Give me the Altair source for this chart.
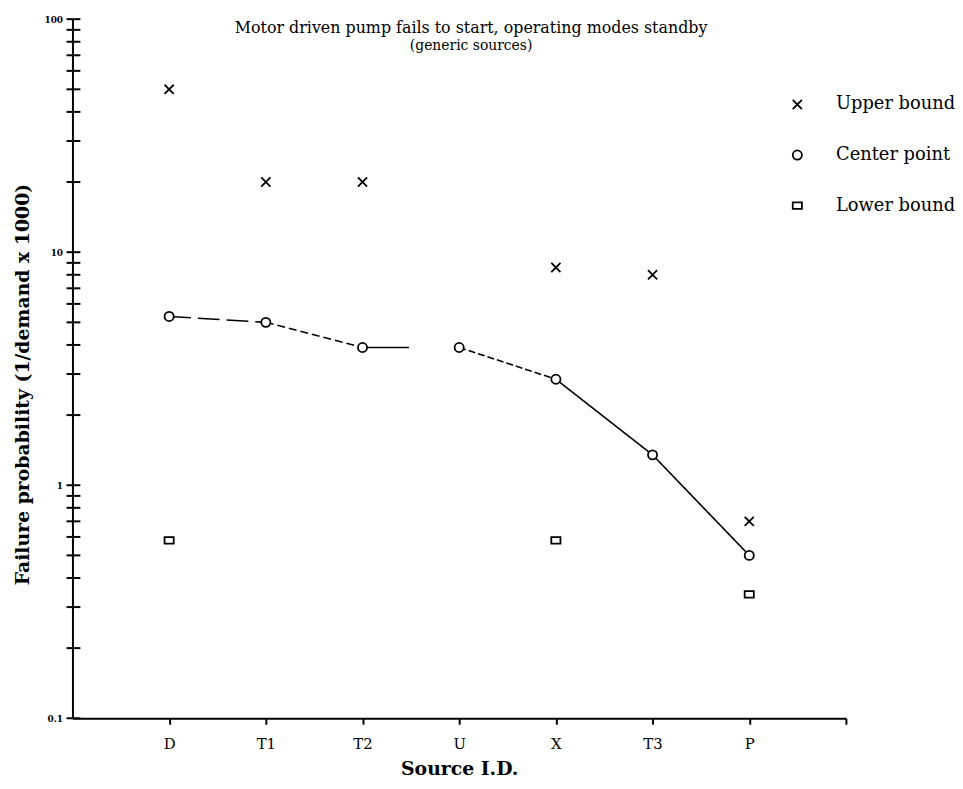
import altair as alt
import pandas as pd

# ---- data ----
sources = ["D", "T1", "T2", "U", "X", "T3", "P"]

upper_src = ["D", "T1", "T2", "X", "T3", "P"]
upper_val = [50, 20, 20, 8.6, 8.0, 0.7]

center_src = ["D", "T1", "T2", "U", "X", "T3", "P"]
center_val = [5.3, 5.0, 3.9, 3.9, 2.85, 1.35, 0.5]

lower_src = ["D", "X", "P"]
lower_val = [0.58, 0.58, 0.34]

# line pieces joining the center points (segment id, x position, value)
seg_ids = ["a", "a", "b", "b", "c", "c", "d", "d", "e", "e", "e"]
seg_pos = [1, 2, 2, 3, 3, 3.48, 4, 5, 5, 6, 7]
seg_val = [5.3, 5.0, 5.0, 3.9, 3.9, 3.9, 3.9, 2.85, 2.85, 1.35, 0.5]

y_tick_vals = [0.1, 0.2, 0.3, 0.4, 0.5, 0.6, 0.7, 0.8, 0.9,
               1, 2, 3, 4, 5, 6, 7, 8, 9,
               10, 20, 30, 40, 50, 60, 70, 80, 90, 100]
y_label_vals = [0.1, 1, 10, 100]
x_tick_vals = [1, 2, 3, 4, 5, 6, 7, 8]

series_names = ["Upper bound", "Center point", "Lower bound"]

FONT = "DejaVu Serif"

# ---- tables ----
rows = []
for s, v in zip(upper_src, upper_val):
    rows.append({"series": "Upper bound", "pos": sources.index(s) + 1, "value": v})
for s, v in zip(center_src, center_val):
    rows.append({"series": "Center point", "pos": sources.index(s) + 1, "value": v})
for s, v in zip(lower_src, lower_val):
    rows.append({"series": "Lower bound", "pos": sources.index(s) + 1, "value": v})
pts = pd.DataFrame(rows)
centers = pts[pts["series"] == "Center point"]

segs = pd.DataFrame({"seg": seg_ids, "pos": seg_pos, "value": seg_val})
ticks = pd.DataFrame({"value": y_tick_vals})

label_expr = ("datum.value == 1 ? 'D' : datum.value == 2 ? 'T1' : datum.value == 3 ? 'T2' : "
              "datum.value == 4 ? 'U' : datum.value == 5 ? 'X' : datum.value == 6 ? 'T3' : "
              "datum.value == 7 ? 'P' : ''")

x_scale = alt.Scale(domain=[0, 8], nice=False, zero=False)
y_scale = alt.Scale(type="log", domain=[0.1, 100], nice=False)

x_enc = alt.X("pos:Q", scale=x_scale,
              axis=alt.Axis(values=x_tick_vals, labelExpr=label_expr, title="Source I.D.",
                            grid=False, tickSize=6, tickWidth=2, tickColor="black",
                            domainColor="black", domainWidth=2,
                            labelFont=FONT, labelFontSize=15, labelColor="black", labelPadding=12,
                            titleFont=FONT, titleFontSize=19, titleFontWeight="bold",
                            titleColor="black", titleY=51, titleBaseline="middle"))
y_enc = alt.Y("value:Q", scale=y_scale,
              axis=alt.Axis(values=y_label_vals, format="~g", title="Failure probability (1/demand x 1000)",
                            grid=False, ticks=False, domainColor="black", domainWidth=2,
                            labelFont=FONT, labelFontSize=9, labelFontWeight="bold",
                            labelColor="black", labelPadding=10,
                            titleFont=FONT, titleFontSize=19, titleFontWeight="bold",
                            titleColor="black", titleX=-50, titleY=368,
                            titleBaseline="middle", titleAlign="center"))

tick_layer = alt.Chart(ticks).mark_rule(color="black", strokeWidth=2).encode(
    y=alt.Y("value:Q", scale=y_scale),
    x=alt.value(-6), x2=alt.value(8),
)

line_layer = alt.Chart(segs).mark_line(color="black", strokeWidth=1.6).encode(
    x=alt.X("pos:Q", scale=x_scale),
    y=alt.Y("value:Q", scale=y_scale),
    detail="seg:N",
    strokeDash=alt.StrokeDash("seg:N", legend=None,
                              scale=alt.Scale(domain=["a", "b", "c", "d", "e"],
                                              range=[[22, 7], [8, 4], [1, 0], [7, 3], [1, 0]])),
)

# white discs under the center circles so the line does not show inside them
mask_layer = alt.Chart(centers).mark_circle(color="white", size=80, opacity=1).encode(
    x=alt.X("pos:Q", scale=x_scale),
    y=alt.Y("value:Q", scale=y_scale),
)

shape_scale = alt.Scale(domain=series_names,
                        range=["M-1,-1L1,1M-1,1L1,-1", "circle", "M-1,-0.7H1V0.7H-1Z"])

point_layer = alt.Chart(pts).mark_point(filled=False, color="black",
                                        strokeWidth=1.8, size=85, opacity=1).encode(
    x=x_enc,
    y=y_enc,
    shape=alt.Shape("series:N", scale=shape_scale, sort=series_names,
                    legend=alt.Legend(title=None, orient="none", legendX=722, legendY=77,
                                      labelFont=FONT, labelFontSize=18, labelColor="black",
                                      labelOffset=30, rowPadding=33, symbolSize=85,
                                      symbolStrokeColor="black", symbolStrokeWidth=1.8,
                                      symbolFillColor="transparent")),
)

chart = alt.layer(tick_layer, line_layer, mask_layer, point_layer).properties(
    width=780, height=705,
    background="white",
    padding={"left": 65, "top": 8, "right": 110, "bottom": 60},
    autosize=alt.AutoSizeParams(type="none"),
    title=alt.TitleParams(text="Motor driven pump fails to start, operating modes standby",
                          subtitle="(generic sources)", anchor="middle", frame="group",
                          font=FONT, fontSize=16, fontWeight="normal", color="black",
                          subtitleFont=FONT, subtitleFontSize=14, subtitleColor="black",
                          subtitlePadding=3, dy=38, dx=12, offset=0),
).configure_view(strokeWidth=0, stroke="transparent")

chart.save("out.html", embed_options={"renderer": "svg", "actions": False})
